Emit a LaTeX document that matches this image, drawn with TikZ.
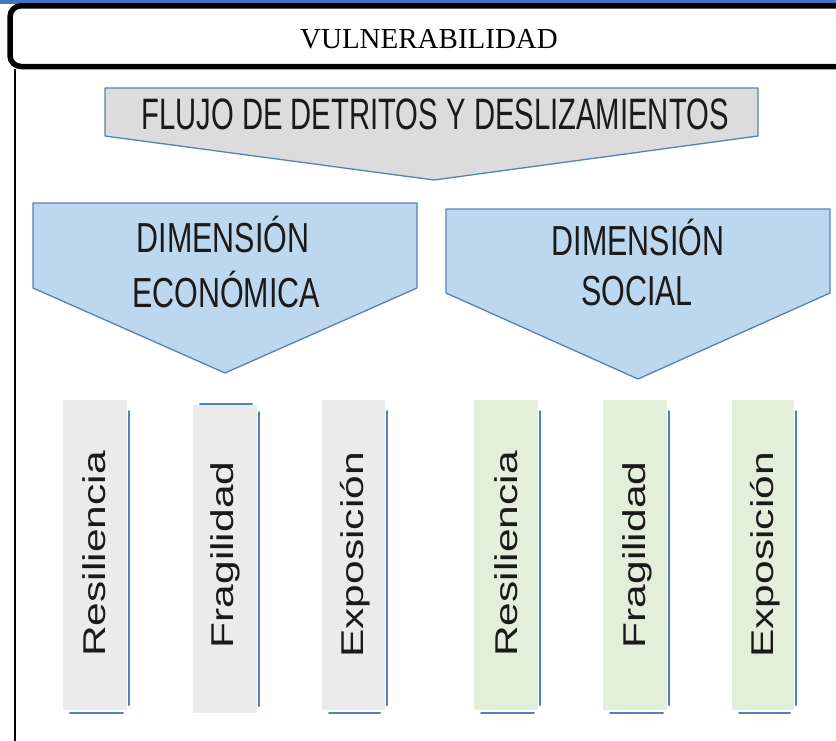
\documentclass[tikz,border=0pt]{standalone}
\usepackage{fontspec}
\setmainfont{Liberation Serif}
\newfontfamily\condfont[FakeStretch=0.725]{Liberation Sans}
\newfontfamily\flujofont[FakeStretch=0.665]{Liberation Sans}
\newfontfamily\widefont[FakeStretch=1.35]{Liberation Sans}
\definecolor{topblue}{HTML}{4472C4}
\definecolor{edgeblue}{HTML}{4F81BD}
\definecolor{arrowblue}{HTML}{BDD7EE}
\definecolor{arrowgray}{HTML}{DCDCDC}
\definecolor{boxgray}{HTML}{EBEBEB}
\definecolor{boxgreen}{HTML}{E2EFDA}
\definecolor{txt}{HTML}{1A1A1A}
\tikzset{
  chevron/.style={draw=edgeblue!85!gray, line width=1.3pt, line join=round},
  bigtext/.style={font=\flujofont\fontsize{44}{52}\selectfont, text=txt, anchor=base, inner sep=0pt},
  dimtext/.style={font=\condfont\fontsize{42}{50}\selectfont, text=txt, anchor=base, inner sep=0pt},
  verttext/.style={font=\widefont\fontsize{31.5}{36}\selectfont, text=txt, anchor=base, rotate=90, inner sep=0pt},
  accent/.style={draw=edgeblue, line width=2pt, line cap=round},
}
\begin{document}
\begin{tikzpicture}[x=1pt,y=-1pt]
\useasboundingbox (0,0) rectangle (836,740);
% top strip
\fill[topblue] (0,0) rectangle (836,3.5);
% header
\draw[line width=5.5pt, rounded corners=11pt] (10,5.8) rectangle (860,66.5);
\node[font=\fontsize{29}{34}\selectfont, anchor=base, inner sep=0pt] (title) at (429,48) {VULNERABILIDAD};
% left frame line
\draw[line width=1.8pt] (15,69) -- (15,742);
% main chevron
\coordinate (fa) at (105,88);
\coordinate (fb) at (758,88);
\coordinate (fc) at (758,136);
\coordinate (fd) at (434,180);
\coordinate (fe) at (105,136);
\filldraw[chevron, fill=arrowgray] (fa) -- (fb) -- (fc) -- (fd) -- (fe) -- cycle;
\node[bigtext] (flujo) at (435,129.5) {FLUJO DE DETRITOS Y DESLIZAMIENTOS};
% left dimension chevron
\coordinate (la) at (33,203);
\coordinate (lb) at (417,203);
\coordinate (lc) at (417,288);
\coordinate (ld) at (225,373);
\coordinate (le) at (33,288);
\filldraw[chevron, fill=arrowblue] (la) -- (lb) -- (lc) -- (ld) -- (le) -- cycle;
\node[dimtext] (ecoa) at (223,252) {DIMENSIÓN};
\node[dimtext] (ecob) at (226,307) {ECONÓMICA};
% right dimension chevron
\coordinate (ra) at (446,209);
\coordinate (rb) at (830,209);
\coordinate (rc) at (830,293);
\coordinate (rd) at (638,379);
\coordinate (re) at (446,293);
\filldraw[chevron, fill=arrowblue] (ra) -- (rb) -- (rc) -- (rd) -- (re) -- cycle;
\node[dimtext] (soca) at (638,255) {DIMENSIÓN};
\node[dimtext] (socb) at (637,305) {SOCIAL};
% vertical boxes, economic
\fill[boxgray] (63,400) rectangle (127,710);
\draw[accent] (128.5,411) -- (128.5,705);
\draw[accent] (70,712.5) -- (123,712.5);
\node[verttext] (r1) at (105.5,554) {Resiliencia};

\fill[boxgray] (193,405) rectangle (257,713);
\draw[accent] (200,404) -- (252,404);
\draw[accent] (258.5,412) -- (258.5,706);
\node[verttext] (f1) at (233.5,555) {Fragilidad};

\fill[boxgray] (322,400) rectangle (385,710);
\draw[accent] (386.5,411) -- (386.5,705);
\draw[accent] (329,712.5) -- (380,712.5);
\node[verttext] (e1) at (363.5,555) {Exposición};
% vertical boxes, social
\fill[boxgreen] (474,400) rectangle (538,710);
\draw[accent] (539.5,411) -- (539.5,705);
\draw[accent] (481,712.5) -- (534,712.5);
\node[verttext] (r2) at (517,554) {Resiliencia};

\fill[boxgreen] (603,400) rectangle (667,710);
\draw[accent] (668.5,411) -- (668.5,705);
\draw[accent] (610,712.5) -- (663,712.5);
\node[verttext] (f2) at (645.5,555) {Fragilidad};

\fill[boxgreen] (732,400) rectangle (794,710);
\draw[accent] (795.5,411) -- (795.5,705);
\draw[accent] (739,712.5) -- (790,712.5);
\node[verttext] (e2) at (773.5,555) {Exposición};
\end{tikzpicture}
\end{document}
